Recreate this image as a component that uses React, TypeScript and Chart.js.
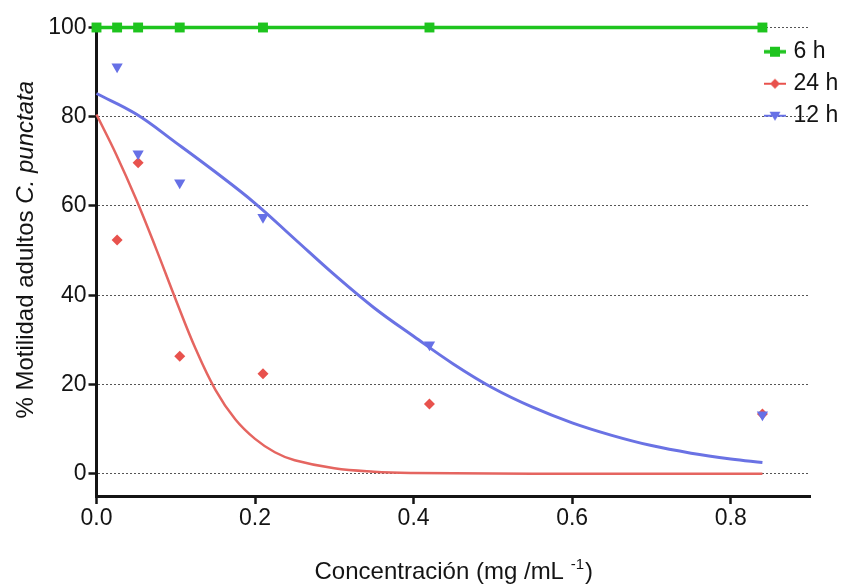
import React, { useEffect, useRef } from "react";
import { Chart, registerables } from "chart.js";

Chart.register(...registerables);

// ---- data ----
const CONC_ALL = [0, 0.026, 0.0525, 0.105, 0.21, 0.42, 0.84];
const VALUES_6H = [100, 100, 100, 100, 100, 100, 100];

const CONC_POINTS = [0.026, 0.0525, 0.105, 0.21, 0.42, 0.84];
const VALUES_24H = [52.4, 69.7, 26.3, 22.4, 15.6, 13.4];
const VALUES_12H = [91.2, 71.7, 65.2, 57.5, 28.9, 13.2];

// fitted curves
const FIT_24H_X = [0, 0.025, 0.05, 0.075, 0.1, 0.125, 0.15, 0.175, 0.2, 0.225, 0.25, 0.3, 0.35, 0.4, 0.5, 0.6, 0.84];
const FIT_24H_Y = [80.5, 71.5, 61.5, 50.5, 39, 28, 18.8, 12.2, 7.8, 4.8, 3.0, 1.2, 0.45, 0.17, 0.03, 0, 0];
const FIT_12H_X = [0, 0.05, 0.1, 0.15, 0.2, 0.25, 0.3, 0.35, 0.4, 0.45, 0.5, 0.55, 0.6, 0.65, 0.7, 0.75, 0.8, 0.84];
const FIT_12H_Y = [85.2, 80.6, 74.2, 67.6, 60.6, 52.6, 44.6, 37.2, 30.8, 24.6, 19.2, 14.9, 11.4, 8.6, 6.3, 4.6, 3.3, 2.5];

const SERIES_NAMES = ["6 h", "24 h", "12 h"];
const X_TICKS = [0, 0.2, 0.4, 0.6, 0.8];
const Y_TICKS = [0, 20, 40, 60, 80, 100];
const X_TITLE_MAIN = "Concentración (mg /mL ";
const X_TITLE_SUP = "-1";
const X_TITLE_END = ")";
const Y_TITLE_MAIN = "% Motilidad adultos ";
const Y_TITLE_ITALIC = "C. punctata";

const FONT = '"Liberation Sans", Arial, Helvetica, sans-serif';
const TEXT = "#141414";
const GREEN = "#1ec41e";
const RED = "#e8524d";
const RED_LINE = "#e56560";
const BLUE = "#6670e6";
const BLUE_LINE = "#6a72e4";

function pts(xs: number[], ys: number[]) {
  return xs.map((x, i) => ({ x, y: ys[i] }));
}

function makeGlyph(kind: string, color: string, lw: number) {
  const c = document.createElement("canvas");
  c.width = 22;
  c.height = 14;
  const g = c.getContext("2d")!;
  g.strokeStyle = color;
  g.fillStyle = color;
  g.lineWidth = lw;
  g.beginPath();
  g.moveTo(0, 7);
  g.lineTo(22, 7);
  g.stroke();
  g.beginPath();
  if (kind === "square") {
    g.rect(6, 2, 10, 10);
  } else if (kind === "diamond") {
    g.moveTo(11, 2);
    g.lineTo(16, 7);
    g.lineTo(11, 12);
    g.lineTo(6, 7);
    g.closePath();
  } else {
    g.moveTo(5.5, 3);
    g.lineTo(16.5, 3);
    g.lineTo(11, 12);
    g.closePath();
  }
  g.fill();
  return c;
}

const decorPlugin = {
  id: "decor",
  beforeDraw(chart: any) {
    const lg = chart.legend;
    const ca = chart.chartArea;
    if (lg && ca) {
      lg.left = ca.right - 51;
      lg.top = ca.top + 3.7;
      lg.right = chart.width;
      lg.bottom = ca.bottom;
      lg.width = lg.right - lg.left;
      lg.height = lg.bottom - lg.top;
    }
  },
  afterDraw(chart: any) {
    const ctx = chart.ctx as CanvasRenderingContext2D;
    const ca = chart.chartArea;
    ctx.save();
    ctx.fillStyle = TEXT;
    ctx.textBaseline = "alphabetic";
    ctx.textAlign = "left";
    // x title
    const fMain = `24px ${FONT}`;
    const fSup = `15px ${FONT}`;
    ctx.font = fMain;
    const w1 = ctx.measureText(X_TITLE_MAIN).width;
    const w3 = ctx.measureText(X_TITLE_END).width;
    ctx.font = fSup;
    const w2 = ctx.measureText(X_TITLE_SUP).width;
    const total = w1 + w2 + w3;
    const cx = (ca.left + ca.right) / 2;
    const base = ca.bottom + 83;
    const x0 = cx - total / 2;
    ctx.font = fMain;
    ctx.fillText(X_TITLE_MAIN, x0, base);
    ctx.font = fSup;
    ctx.fillText(X_TITLE_SUP, x0 + w1, base - 10);
    ctx.font = fMain;
    ctx.fillText(X_TITLE_END, x0 + w1 + w2 + 1, base);
    // y title
    const fIt = `italic 24px ${FONT}`;
    ctx.font = fMain;
    const a = ctx.measureText(Y_TITLE_MAIN).width;
    ctx.font = fIt;
    const b = ctx.measureText(Y_TITLE_ITALIC).width;
    ctx.translate(ca.left - 64, (ca.top + ca.bottom) / 2 - 12);
    ctx.rotate(-Math.PI / 2);
    const s = -(a + b) / 2;
    ctx.font = fMain;
    ctx.fillText(Y_TITLE_MAIN, s, 0);
    ctx.font = fIt;
    ctx.fillText(Y_TITLE_ITALIC, s + a, 0);
    ctx.restore();
  },
};

export default function App() {
  const ref = useRef<HTMLCanvasElement | null>(null);

  useEffect(() => {
    if (!ref.current) return;
    const glyphs = [
      makeGlyph("square", GREEN, 3.5),
      makeGlyph("diamond", RED, 2),
      makeGlyph("triangle", BLUE, 2),
    ];
    const chart = new Chart(ref.current, {
      type: "scatter",
      data: {
        datasets: [
          {
            label: SERIES_NAMES[0],
            data: pts(CONC_ALL, VALUES_6H),
            showLine: true,
            borderColor: GREEN,
            backgroundColor: GREEN,
            borderWidth: 3.5,
            pointStyle: "rect",
            pointRadius: 7,
            pointBorderWidth: 0,
            clip: false,
            order: 0,
          },
          {
            label: SERIES_NAMES[1],
            data: pts(CONC_POINTS, VALUES_24H),
            showLine: false,
            borderColor: RED,
            backgroundColor: RED,
            pointStyle: "rectRot",
            pointRadius: 5.5,
            pointBorderWidth: 0,
            clip: false,
            order: 2,
          },
          {
            label: SERIES_NAMES[2],
            data: pts(CONC_POINTS, VALUES_12H),
            showLine: false,
            borderColor: BLUE,
            backgroundColor: BLUE,
            pointStyle: "triangle",
            rotation: 180,
            pointRadius: 6.5,
            pointBorderWidth: 0,
            clip: false,
            order: 1,
          },
          {
            label: "fit 24 h",
            data: pts(FIT_24H_X, FIT_24H_Y),
            showLine: true,
            borderColor: RED_LINE,
            borderWidth: 2.5,
            pointRadius: 0,
            tension: 0.4,
            clip: false,
            order: 4,
          },
          {
            label: "fit 12 h",
            data: pts(FIT_12H_X, FIT_12H_Y),
            showLine: true,
            borderColor: BLUE_LINE,
            borderWidth: 3,
            pointRadius: 0,
            tension: 0.4,
            clip: false,
            order: 3,
          },
        ],
      },
      options: {
        responsive: false,
        animation: false,
        events: [],
        layout: { padding: { top: 27.5, right: 34, left: 0, bottom: 0 } },
        plugins: {
          tooltip: { enabled: false },
          title: { display: false },
          legend: {
            display: true,
            position: "chartArea",
            align: "start",
            labels: {
              usePointStyle: true,
              boxWidth: 14,
              boxHeight: 14,
              padding: 9,
              color: TEXT,
              font: { family: FONT, size: 23 },
              filter: (item: any) => item.datasetIndex < 3,
              sort: (a: any, b: any) => a.datasetIndex - b.datasetIndex,
              generateLabels: (ch: any) => {
                const base = (Chart.defaults as any).plugins.legend.labels.generateLabels(ch);
                return base.map((it: any) => ({
                  ...it,
                  pointStyle: it.datasetIndex < 3 ? glyphs[it.datasetIndex] : it.pointStyle,
                  rotation: 0,
                }));
              },
            },
          },
        },
        scales: {
          x: {
            type: "linear",
            min: 0,
            max: 0.9,
            afterBuildTicks: (s: any) => {
              s.ticks = X_TICKS.map((v) => ({ value: v }));
            },
            afterFit: (s: any) => {
              s.height = 90;
            },
            ticks: {
              callback: (v: any) => Number(v).toFixed(1),
              color: TEXT,
              font: { family: FONT, size: 23 },
              padding: 1,
              maxRotation: 0,
              autoSkip: false,
            },
            grid: {
              drawOnChartArea: false,
              drawTicks: true,
              tickLength: 8,
              tickWidth: 2.5,
              tickColor: TEXT,
              color: TEXT,
            },
            border: { display: true, color: TEXT, width: 3 },
          },
          y: {
            type: "linear",
            min: -5,
            max: 100,
            afterBuildTicks: (s: any) => {
              s.ticks = Y_TICKS.map((v) => ({ value: v }));
            },
            afterFit: (s: any) => {
              s.width = 96.5;
            },
            ticks: {
              callback: (v: any) => String(v),
              color: TEXT,
              font: { family: FONT, size: 23 },
              padding: 2,
              autoSkip: false,
            },
            grid: {
              color: "#555555",
              lineWidth: 1,
              drawTicks: true,
              tickLength: 8,
              tickWidth: 2.5,
              tickColor: TEXT,
            },
            border: { display: true, color: TEXT, width: 3, dash: [2, 2] },
          },
        },
      },
      plugins: [decorPlugin],
    } as any);
    return () => chart.destroy();
  }, []);

  return (
    <div style={{ position: "absolute", left: 0, top: 0, width: 844, height: 586, background: "#fff" }}>
      <canvas ref={ref} width={844} height={586} style={{ display: "block" }} />
    </div>
  );
}
